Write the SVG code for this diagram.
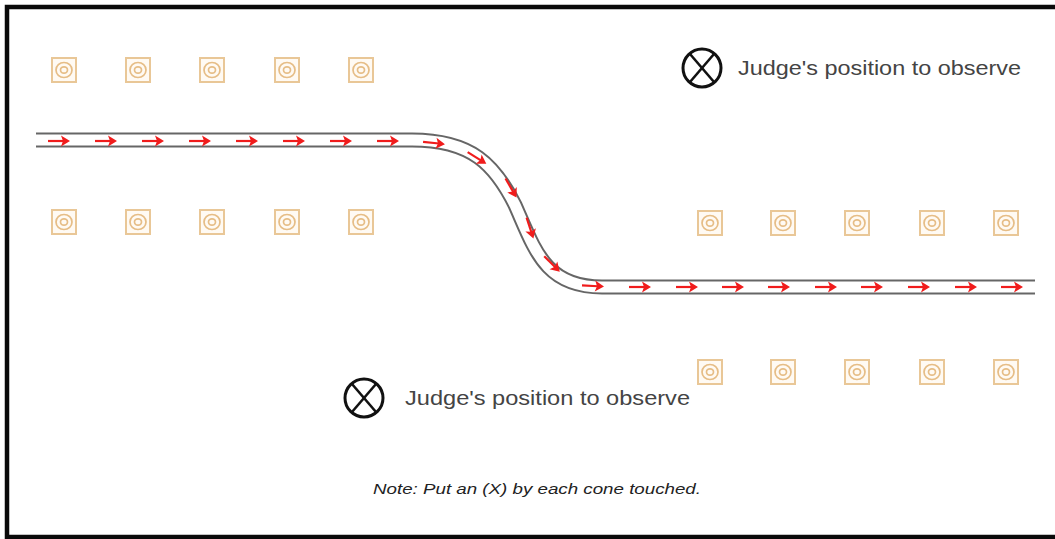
<svg xmlns="http://www.w3.org/2000/svg" width="1055" height="539" viewBox="0 0 1055 539">
<defs>
<style>
.cone-box{fill:#fffaf3;stroke:#e9c797;stroke-width:2}
.cone-ring{fill:none;stroke:#e6bd86;stroke-width:1.7}
.judge-c{fill:#fff;stroke:#111;stroke-width:3}
.judge-x{stroke:#111;stroke-width:2.6}
.lbl{font-family:"Liberation Sans",Arial,sans-serif;font-size:21px;fill:#444}
.note{font-family:"Liberation Sans",Arial,sans-serif;font-size:14px;font-style:italic;fill:#222}
.arr line{stroke:#f01c1c;stroke-width:2.2}
.arr polygon{fill:#f01c1c}
</style>
<g id="cone">
<rect class="cone-box" x="-12" y="-12" width="24" height="24"/>
<ellipse class="cone-ring" cx="0" cy="0" rx="8" ry="7.5"/>
<ellipse class="cone-ring" cx="0" cy="0" rx="3.5" ry="3.2"/>
</g>
<g id="arrow" class="arr">
<line x1="-11" y1="0" x2="5" y2="0"/>
<polygon points="11,0 2,-5.5 4,0 2,5.5"/>
</g>
</defs>
<rect x="0" y="0" width="1055" height="539" fill="#fff"/>
<rect x="7" y="7" width="1100" height="530" fill="none" stroke="#0a0a0a" stroke-width="4.5"/>

<g id="connectors">
<path d="M36,140 H412 C472,140 495,165 515,205 C535,250 545,287 602,287 H1035" fill="none" stroke="#666" stroke-width="15"/>
<path d="M30,140 H412 C472,140 495,165 515,205 C535,250 545,287 602,287 H1040" fill="none" stroke="#fff" stroke-width="11"/>
<use href="#arrow" transform="translate(59,141)"/>
<use href="#arrow" transform="translate(106,141)"/>
<use href="#arrow" transform="translate(153,141)"/>
<use href="#arrow" transform="translate(200,141)"/>
<use href="#arrow" transform="translate(247,141)"/>
<use href="#arrow" transform="translate(294,141)"/>
<use href="#arrow" transform="translate(341,141)"/>
<use href="#arrow" transform="translate(388,141)"/>
<use href="#arrow" transform="translate(434,143) rotate(6)"/>
<use href="#arrow" transform="translate(477,158) rotate(32)"/>
<use href="#arrow" transform="translate(511,188) rotate(60)"/>
<use href="#arrow" transform="translate(530,228) rotate(72)"/>
<use href="#arrow" transform="translate(552,264) rotate(45)"/>
<use href="#arrow" transform="translate(593,286) rotate(3)"/>
<use href="#arrow" transform="translate(640,287)"/>
<use href="#arrow" transform="translate(687,287)"/>
<use href="#arrow" transform="translate(733,287)"/>
<use href="#arrow" transform="translate(779,287)"/>
<use href="#arrow" transform="translate(826,287)"/>
<use href="#arrow" transform="translate(872,287)"/>
<use href="#arrow" transform="translate(919,287)"/>
<use href="#arrow" transform="translate(966,287)"/>
<use href="#arrow" transform="translate(1012,287)"/>
</g>

<g id="cones-top-left">
<use href="#cone" x="64" y="70"/>
<use href="#cone" x="138" y="70"/>
<use href="#cone" x="212" y="70"/>
<use href="#cone" x="287" y="70"/>
<use href="#cone" x="361" y="70"/>
</g>
<g id="cones-mid-left">
<use href="#cone" x="64" y="222"/>
<use href="#cone" x="138" y="222"/>
<use href="#cone" x="212" y="222"/>
<use href="#cone" x="287" y="222"/>
<use href="#cone" x="361" y="222"/>
</g>
<g id="cones-mid-right">
<use href="#cone" x="710" y="223"/>
<use href="#cone" x="783" y="223"/>
<use href="#cone" x="857" y="223"/>
<use href="#cone" x="932" y="223"/>
<use href="#cone" x="1006" y="223"/>
</g>
<g id="cones-bottom-right">
<use href="#cone" x="710" y="372"/>
<use href="#cone" x="783" y="372"/>
<use href="#cone" x="857" y="372"/>
<use href="#cone" x="932" y="372"/>
<use href="#cone" x="1006" y="372"/>
</g>

<g id="judge-top">
<circle class="judge-c" cx="702" cy="68" r="19"/>
<line class="judge-x" x1="690" y1="54" x2="714" y2="82"/>
<line class="judge-x" x1="714" y1="54" x2="690" y2="82"/>
<text class="lbl" x="738" y="75" textLength="283" lengthAdjust="spacingAndGlyphs">Judge's position to observe</text>
</g>
<g id="judge-bottom">
<circle class="judge-c" cx="364" cy="398" r="19"/>
<line class="judge-x" x1="352" y1="384" x2="376" y2="412"/>
<line class="judge-x" x1="376" y1="384" x2="352" y2="412"/>
<text class="lbl" x="405" y="405" textLength="285" lengthAdjust="spacingAndGlyphs">Judge's position to observe</text>
</g>
<g id="note">
<text class="note" x="373" y="494" textLength="328" lengthAdjust="spacingAndGlyphs">Note: Put an (X) by each cone touched.</text>
</g>
</svg>
